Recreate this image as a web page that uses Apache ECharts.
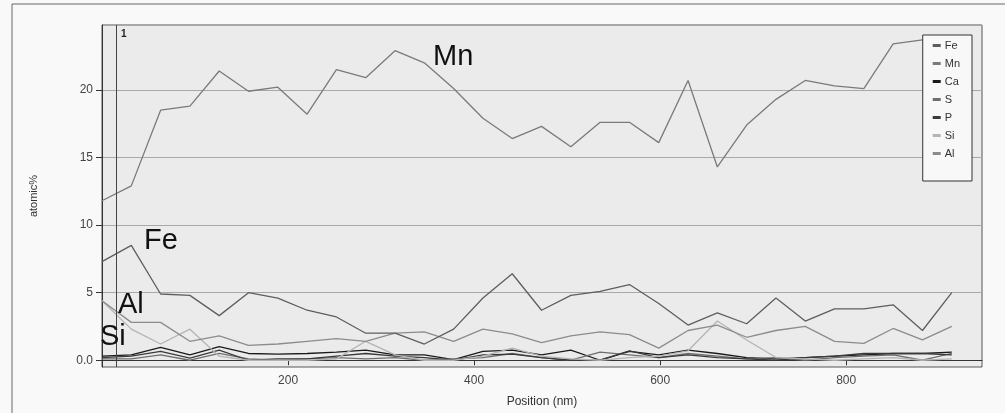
<!DOCTYPE html>
<html>
<head>
<meta charset="utf-8">
<script src="https://cdn.jsdelivr.net/npm/echarts@6/dist/echarts.min.js"></script>
<style>
html,body{margin:0;padding:0;background:#f9f9f9;}
#c{width:1005px;height:413px;}
</style>
</head>
<body>
<div id="c"></div>
<script>
const positions = [0, 31.5, 63, 94.5, 126, 157.5, 189, 220.5, 252, 283.5, 315, 346.5, 378, 409.5, 441, 472.5, 504, 535.5, 567, 598.5, 630, 661.5, 693, 724.5, 756, 787.5, 819, 850.5, 882, 913.5];
const Fe = [7.3, 8.5, 4.9, 4.8, 3.3, 5.0, 4.6, 3.7, 3.2, 2.0, 2.0, 1.2, 2.3, 4.6, 6.4, 3.7, 4.8, 5.1, 5.6, 4.2, 2.6, 3.5, 2.7, 4.6, 2.9, 3.8, 3.8, 4.1, 2.2, 5.0];
const Mn = [11.8, 12.9, 18.5, 18.8, 21.4, 19.9, 20.2, 18.2, 21.5, 20.9, 22.9, 22.0, 20.1, 17.9, 16.4, 17.3, 15.8, 17.6, 17.6, 16.1, 20.7, 14.3, 17.4, 19.3, 20.7, 20.3, 20.1, 23.4, 23.7, 23.9];
const Ca = [0.3, 0.4, 0.95, 0.4, 1.0, 0.5, 0.45, 0.5, 0.6, 0.75, 0.4, 0.4, 0.05, 0.65, 0.75, 0.4, 0.75, 0.0, 0.65, 0.4, 0.75, 0.5, 0.2, 0.1, 0.2, 0.3, 0.4, 0.5, 0.5, 0.6];
const S  = [0.1, 0.1, 0.4, 0.0, 0.5, 0.1, 0.0, 0.1, 0.2, 0.1, 0.2, 0.0, 0.1, 0.2, 0.5, 0.2, 0.0, 0.6, 0.4, 0.2, 0.5, 0.3, 0.1, 0.2, 0.0, 0.2, 0.3, 0.4, 0.0, 0.5];
const P  = [0.2, 0.3, 0.65, 0.15, 0.75, 0.0, 0.1, 0.1, 0.3, 0.5, 0.3, 0.2, 0.0, 0.4, 0.45, 0.2, 0.0, 0.0, 0.7, 0.2, 0.4, 0.2, 0.1, 0.0, 0.2, 0.3, 0.5, 0.5, 0.5, 0.4];
const Si = [4.4, 2.3, 1.2, 2.3, 0.3, 0.0, 0.0, 0.0, 0.1, 1.4, 0.4, 0.0, 0.0, 0.3, 0.9, 0.3, 0.1, 0.0, 0.2, 0.3, 0.7, 2.9, 1.5, 0.2, 0.1, 0.0, 0.1, 0.2, 0.0, 0.1];
const Al = [4.4, 2.8, 2.8, 1.4, 1.8, 1.1, 1.2, 1.4, 1.6, 1.4, 2.0, 2.1, 1.4, 2.3, 1.95, 1.3, 1.8, 2.1, 1.9, 0.9, 2.2, 2.6, 1.7, 2.2, 2.5, 1.4, 1.25, 2.35, 1.5, 2.5];
const seriesNames = ['Fe', 'Mn', 'Ca', 'S', 'P', 'Si', 'Al'];
const seriesValues = [Fe, Mn, Ca, S, P, Si, Al];
const seriesColors = ['#5e5e5e', '#7a7a7a', '#1a1a1a', '#6e6e6e', '#3a3a3a', '#b4b4b4', '#8c8c8c'];
const markerPosition = 15;

const chart = echarts.init(document.getElementById('c'), null, {renderer: 'canvas'});
const font = 'Liberation Sans, Arial, sans-serif';

const series = seriesNames.map((n, k) => ({
  name: n,
  type: 'line',
  data: positions.map((x, i) => [x, seriesValues[k][i]]),
  showSymbol: false,
  symbol: 'none',
  lineStyle: {color: seriesColors[k], width: 1.3},
  itemStyle: {color: seriesColors[k]},
  z: k === 1 || k === 0 ? 3 : 2,
  animation: false
}));
series[1].markLine = {
  silent: true,
  symbol: 'none',
  label: {show: false},
  lineStyle: {color: '#444', width: 1, type: 'solid'},
  data: [{xAxis: markerPosition}],
  animation: false
};

chart.setOption({
  backgroundColor: '#f9f9f9',
  animation: false,
  grid: {left: 102, right: 23, top: 25, bottom: 44, show: true, backgroundColor: '#ebebeb', borderColor: '#555', borderWidth: 1},
  legend: {
    orient: 'vertical',
    right: 33,
    top: 35,
    data: seriesNames,
    icon: 'rect',
    itemWidth: 8,
    itemHeight: 3,
    itemGap: 7,
    padding: [5, 12, 22, 10],
    backgroundColor: '#f8f8f8',
    borderColor: '#333',
    borderWidth: 1,
    textStyle: {fontFamily: font, fontSize: 11, color: '#333', padding: [0, 0, 0, -1]},
    selectedMode: false
  },
  xAxis: {
    type: 'value',
    min: 0,
    max: 946,
    interval: 200,
    name: 'Position (nm)',
    nameLocation: 'middle',
    nameGap: 29,
    nameTextStyle: {fontFamily: font, fontSize: 12, color: '#333'},
    axisLine: {show: true, lineStyle: {color: '#333'}},
    axisTick: {show: true, length: 5, lineStyle: {color: '#333'}},
    axisLabel: {fontFamily: font, fontSize: 12, color: '#444', margin: 8, showMinLabel: false, showMaxLabel: false},
    splitLine: {show: false}
  },
  yAxis: {
    type: 'value',
    min: -0.5,
    max: 24.8,
    splitNumber: 5,
    name: 'atomic%',
    nameLocation: 'middle',
    nameGap: 63,
    nameTextStyle: {fontFamily: font, fontSize: 11, color: '#333'},
    axisLine: {show: true, lineStyle: {color: '#333'}},
    axisTick: {show: true, length: 6, lineStyle: {color: '#333'}},
    axisLabel: {fontFamily: font, fontSize: 12, color: '#444', margin: 9, showMinLabel: false, showMaxLabel: false,
      formatter: v => (v === 0 ? '0.0' : String(v))},
    splitLine: {show: true, lineStyle: {color: '#a8a8a8', width: 1}}
  },
  graphic: [
    {type: 'rect', shape: {x: 12, y: 4, width: 1000, height: 420}, style: {fill: 'none', stroke: '#666', lineWidth: 1}, silent: true, z: -1},
    {type: 'text', left: 121, top: 29, style: {text: '1', font: 'bold 10px ' + font, fill: '#222'}},
    {type: 'text', left: 433, top: 42, style: {text: 'Mn', font: '29px ' + font, fill: '#111'}, z: 10},
    {type: 'text', left: 144, top: 226, style: {text: 'Fe', font: '29px ' + font, fill: '#111'}, z: 10},
    {type: 'text', left: 118, top: 290, style: {text: 'Al', font: '29px ' + font, fill: '#111'}, z: 10},
    {type: 'text', left: 100, top: 322, style: {text: 'Si', font: '29px ' + font, fill: '#111'}, z: 10}
  ],
  series: series
});
</script>
</body>
</html>
